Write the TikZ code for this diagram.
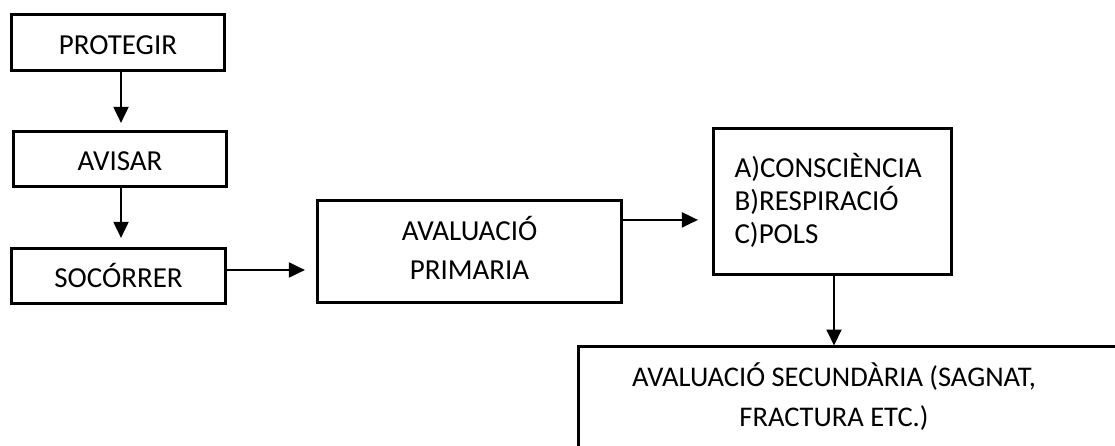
\documentclass[tikz,border=0pt]{standalone}
\usepackage{fontspec}
\setmainfont{Carlito}
\usetikzlibrary{arrows.meta}
\begin{document}
\begin{tikzpicture}[x=1pt,y=-1pt,
  box/.style={draw=black, line width=3.2pt, fill=white, inner sep=0pt,
    font=\fontsize{29}{39}\selectfont, align=center, text height=23pt, text depth=0pt},
  frame/.style={draw=black, line width=3.2pt},
  arr/.style={draw=black, line width=2pt, -{Triangle[length=16pt,width=15pt]}},
  label/.style={inner sep=0pt, align=center}]
  \useasboundingbox (0,0) rectangle (1115,446);
  \clip (0,0) rectangle (1115,446);
  \fill[white] (0,0) rectangle (1115,446);

  % left column of steps
  \node[box, minimum width=213pt, minimum height=56pt, text height=24pt] (prot) at (118,42.5) {PROTEGIR};
  \node[box, minimum width=213pt, minimum height=55pt] (avis) at (120,159) {AVISAR};
  \node[box, minimum width=214pt, minimum height=55pt] (soco) at (118.5,276) {SOCÓRRER};

  % primary assessment (multi-line text: the baseline is that of the last line)
  \node[box, minimum width=304pt, minimum height=102pt, text height=55pt, text depth=0pt]
    (prim) at (469.5,251.5) {AVALUACIÓ\\PRIMARIA};

  % ABC checklist (fixed text width: the baseline is that of the first line)
  \node[box, minimum width=238pt, minimum height=146pt, text width=196pt,
        inner xsep=21pt, align=left, font=\fontsize{29}{33}\selectfont,
        text height=19pt, text depth=66pt] (abc) at (832.5,201.5)
    {A)CONSCIÈNCIA\\B)RESPIRACIÓ\\C)POLS};

  % secondary assessment: only its top and left sides fall inside the page
  \node[minimum width=536pt, minimum height=101pt, inner sep=0pt, anchor=north west]
    (sec) at (578.5,346.5) {};
  \draw[frame] (sec.north east) -- (sec.north west) -- (sec.south west);
  \node[label, font=\fontsize{28.5}{40}\selectfont, text height=60pt, text depth=0pt]
    (sectxt) at (834,396.7) {AVALUACIÓ SECUNDÀRIA (SAGNAT,\\FRACTURA ETC.)};

  % connectors
  \draw[arr, shorten >=7pt] ([xshift=3pt]prot.south) -- ([xshift=3pt]prot.south |- avis.north);
  \draw[arr, shorten >=9pt] ([xshift=1pt]avis.south) -- ([xshift=1pt]avis.south |- soco.north);
  \draw[arr, shorten >=11pt] ([yshift=6pt]soco.east) -- ([yshift=6pt]soco.east -| prim.west);
  \draw[arr, shorten >=14pt] ([yshift=-21pt]prim.north east) -- ([yshift=-21pt]prim.north east -| abc.west);
  \draw[arr, shorten >=1pt] ([xshift=1.5pt]abc.south) -- ([xshift=1.5pt]abc.south |- sec.north);
\end{tikzpicture}
\end{document}
